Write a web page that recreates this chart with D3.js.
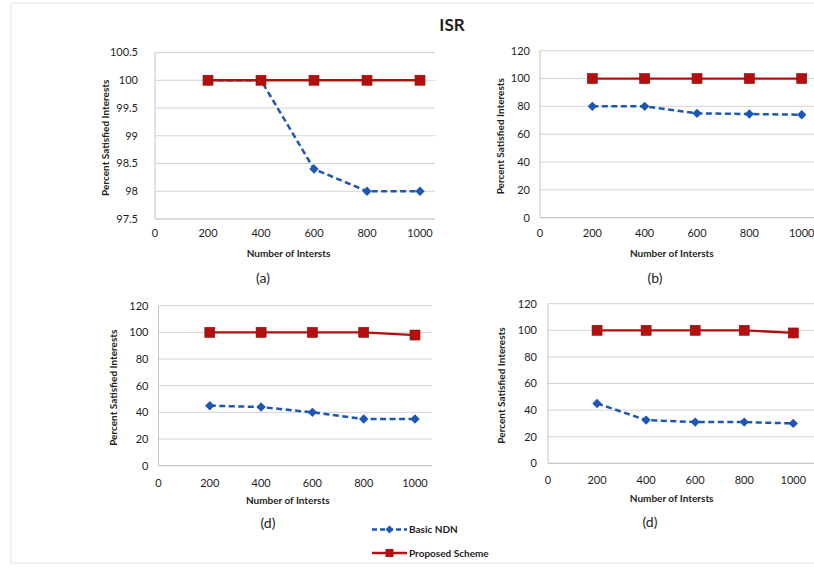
<!DOCTYPE html>
<html><head><meta charset="utf-8">
<script src="https://cdn.jsdelivr.net/npm/d3@7/dist/d3.min.js"></script>
<style>
html,body{margin:0;padding:0;background:#fff;}
svg{display:block;}
text{font-family:Lato,"Open Sans",sans-serif;fill:#1e1e1e;}
</style></head>
<body>
<script>
const xValues = [200, 400, 600, 800, 1000];
const xTicks = [0, 200, 400, 600, 800, 1000];
const yTicksA = [97.5, 98, 98.5, 99, 99.5, 100, 100.5];
const yTicksB = [0, 20, 40, 60, 80, 100, 120];
const basicA = [100, 100, 98.4, 98, 98];
const proposedA = [100, 100, 100, 100, 100];
const basicB = [80, 80, 75, 74.5, 74];
const proposedB = [100, 100, 100, 100, 100];
const basicC = [45, 44, 40, 35, 35];
const proposedC = [100, 100, 100, 100, 98];
const basicD = [45, 32.5, 31, 31, 30];
const proposedD = [100, 100, 100, 100, 98];
const seriesNames = ["Basic NDN", "Proposed Scheme"];
const panelLabels = ["(a)", "(b)", "(d)", "(d)"];
const chartTitle = "ISR";
const xTitle = "Number of Intersts";
const yTitle = "Percent Satisfied Interests";

const W = 814, H = 569;
const blue = "#1d56b5", red = "#b40f0f";

const svg = d3.select("body").append("svg").attr("width", W).attr("height", H);

// faint frame
svg.append("rect").attr("x", 11).attr("y", 3).attr("width", W).attr("height", 560)
  .attr("fill", "#fff").attr("stroke", "#e3e3e3").attr("stroke-width", 1);

svg.append("text").attr("x", 452).attr("y", 31).attr("text-anchor", "middle")
  .style("font-size", "17px").style("font-weight", "bold").text(chartTitle);

const diamond = d3.symbol(d3.symbolSquare, 44)();

const panels = [
  {basic: basicA, prop: proposedA, yt: yTicksA, yd: [97.5, 100.5], left: 155, x1000: 420, right: 435, top: 52.5, bottom: 219,
   tickGap: 17, yLabX: 105, xLabY: 257, xTickY: 237, sub: [263, 283]},
  {basic: basicB, prop: proposedB, yt: yTicksB, yd: [0, 120], left: 540, x1000: 801.7, right: 814, top: 50.7, bottom: 217.7,
   tickGap: 10, yLabX: 500, xLabY: 257, xTickY: 237, sub: [655, 283]},
  {basic: basicC, prop: proposedC, yt: yTicksB, yd: [0, 120], left: 158.5, x1000: 415, right: 432, top: 305.7, bottom: 465.7,
   tickGap: 10, yLabX: 113, xLabY: 504, xTickY: 486.5, sub: [268, 528]},
  {basic: basicD, prop: proposedD, yt: yTicksB, yd: [0, 120], left: 548, x1000: 793.3, right: 814, top: 303.7, bottom: 463.3,
   tickGap: 11, yLabX: 501.5, xLabY: 502, xTickY: 484, sub: [650, 527]}
];

panels.forEach((p, i) => {
  const g = svg.append("g");
  const x = d3.scaleLinear().domain([0, 1000]).range([p.left, p.x1000]);
  const y = d3.scaleLinear().domain(p.yd).range([p.bottom, p.top]);

  // gridlines
  g.selectAll("line.grid").data(p.yt).join("line")
    .attr("x1", p.left).attr("x2", p.right)
    .attr("y1", d => y(d)).attr("y2", d => y(d))
    .attr("stroke", d => d === p.yd[0] ? "#b8b8b8" : "#d4d4d4").attr("stroke-width", 1);
  // vertical axis line
  g.append("line").attr("x1", p.left).attr("x2", p.left).attr("y1", p.top).attr("y2", p.bottom)
    .attr("stroke", "#c4c4c4").attr("stroke-width", 1);

  // y tick labels
  g.selectAll("text.yt").data(p.yt).join("text")
    .attr("x", p.left - p.tickGap).attr("y", d => y(d)).attr("dy", "0.35em")
    .attr("text-anchor", "end").style("font-size", "11px").text(d => d);
  // x tick labels
  g.selectAll("text.xt").data(xTicks).join("text")
    .attr("x", d => x(d)).attr("y", p.xTickY)
    .attr("text-anchor", "middle").style("font-size", "11px").text(d => d);

  // axis titles
  g.append("text").attr("x", x(500) + 1).attr("y", p.xLabY)
    .attr("text-anchor", "middle").style("font-size", "10px").style("font-weight", "bold").text(xTitle);
  g.append("text").attr("transform", `translate(${p.yLabX},${(p.top + p.bottom) / 2 + 2}) rotate(-90)`)
    .attr("text-anchor", "middle").attr("dy", "0.35em")
    .style("font-size", "10px").style("font-weight", "bold").text(yTitle);

  // panel sublabel
  g.append("text").attr("x", p.sub[0]).attr("y", p.sub[1]).attr("text-anchor", "middle")
    .style("font-size", "14px").text(panelLabels[i]);

  const line = d3.line().x((d, j) => x(xValues[j])).y(d => y(d));

  // basic NDN
  g.append("path").datum(p.basic).attr("d", line).attr("fill", "none")
    .attr("stroke", blue).attr("stroke-width", 2.5).attr("stroke-dasharray", "6,3.5");
  g.selectAll("path.dia").data(p.basic).join("path")
    .attr("d", diamond)
    .attr("transform", (d, j) => `translate(${x(xValues[j])},${y(d)}) rotate(45)`)
    .attr("fill", blue);

  // proposed
  g.append("path").datum(p.prop).attr("d", line).attr("fill", "none")
    .attr("stroke", red).attr("stroke-width", 2.3);
  g.selectAll("rect.sq").data(p.prop).join("rect")
    .attr("x", (d, j) => x(xValues[j]) - 5).attr("y", d => y(d) - 5)
    .attr("width", 10).attr("height", 10).attr("fill", red).attr("stroke", "#8a0a0a").attr("stroke-width", 0.6);
});

// legend
const leg = svg.append("g");
const legY = [529.5, 553];
leg.append("line").attr("x1", 372).attr("x2", 407).attr("y1", legY[0]).attr("y2", legY[0])
  .attr("stroke", blue).attr("stroke-width", 2.5).attr("stroke-dasharray", "5,3");
leg.append("path").attr("d", d3.symbol(d3.symbolSquare, 32)()).attr("transform", `translate(389.5,${legY[0]}) rotate(45)`).attr("fill", blue);
leg.append("line").attr("x1", 372).attr("x2", 407).attr("y1", legY[1]).attr("y2", legY[1])
  .attr("stroke", red).attr("stroke-width", 2.3);
leg.append("rect").attr("x", 385.5).attr("y", legY[1] - 4).attr("width", 8).attr("height", 8).attr("fill", red);
seriesNames.forEach((n, i) => {
  leg.append("text").attr("x", 409).attr("y", legY[i]).attr("dy", "0.35em")
    .style("font-size", "10px").style("font-weight", "bold").text(n);
});
</script>
</body></html>
